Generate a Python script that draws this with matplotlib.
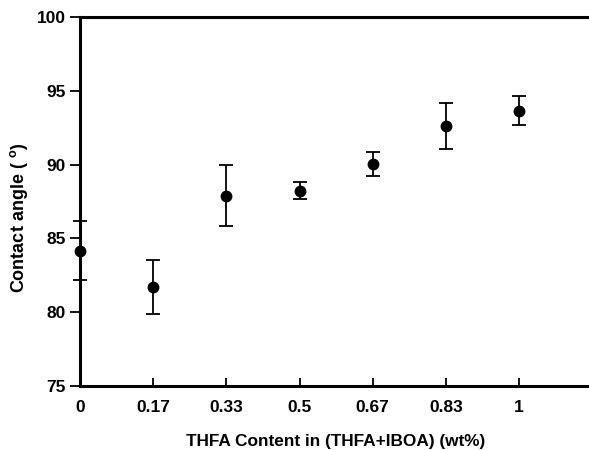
import matplotlib
matplotlib.use("Agg")
import matplotlib.pyplot as plt

# THFA content categories (plotted at evenly spaced positions)
content_labels = ["0", "0.17", "0.33", "0.5", "0.67", "0.83", "1"]
contact_angle = [84.15, 81.73, 87.9, 88.23, 90.03, 92.6, 93.65]
angle_err = [2.0, 1.84, 2.05, 0.56, 0.83, 1.55, 1.0]
y_ticks = [75, 80, 85, 90, 95, 100]

plt.rcParams["font.family"] = ["Liberation Sans", "DejaVu Sans"]
plt.rcParams["font.weight"] = "bold"
plt.rcParams["mathtext.fontset"] = "custom"
plt.rcParams["mathtext.rm"] = "Liberation Sans:bold"
plt.rcParams["mathtext.bf"] = "Liberation Sans:bold"

fig = plt.figure(figsize=(5.89, 4.5), dpi=100)
ax = fig.add_axes([80 / 589, 1 - 386 / 450, 512 / 589, 369 / 450])

positions = list(range(len(content_labels)))
ax.errorbar(positions, contact_angle, yerr=angle_err, fmt="o", color="black",
            markersize=7.5, elinewidth=1.3, capsize=5, capthick=1.3,
            clip_on=False, zorder=3)

ax.set_xlim(0, 6.997)
ax.set_ylim(75, 100)
ax.set_xticks(positions)
ax.set_xticklabels(content_labels)
ax.set_yticks(y_ticks)

for side in ["left", "bottom", "top"]:
    ax.spines[side].set_linewidth(2.2)
ax.spines["right"].set_visible(False)

ax.tick_params(axis="x", direction="in", length=6, width=1.3, labelsize=12.5, pad=10)
ax.tick_params(axis="y", direction="out", length=7, width=1.3, labelsize=12.5, pad=3)
ax.tick_params(top=False, right=False)

ax.set_xlabel("THFA Content in (THFA+IBOA) (wt%)", fontsize=12.4, fontweight="bold", labelpad=14)
ax.set_ylabel(r"Contact angle ( $^{\mathrm{o}}$)", fontsize=13, fontweight="bold")
ax.yaxis.set_label_coords(-0.098, 0.455)

fig.savefig("out.png", dpi=100)
